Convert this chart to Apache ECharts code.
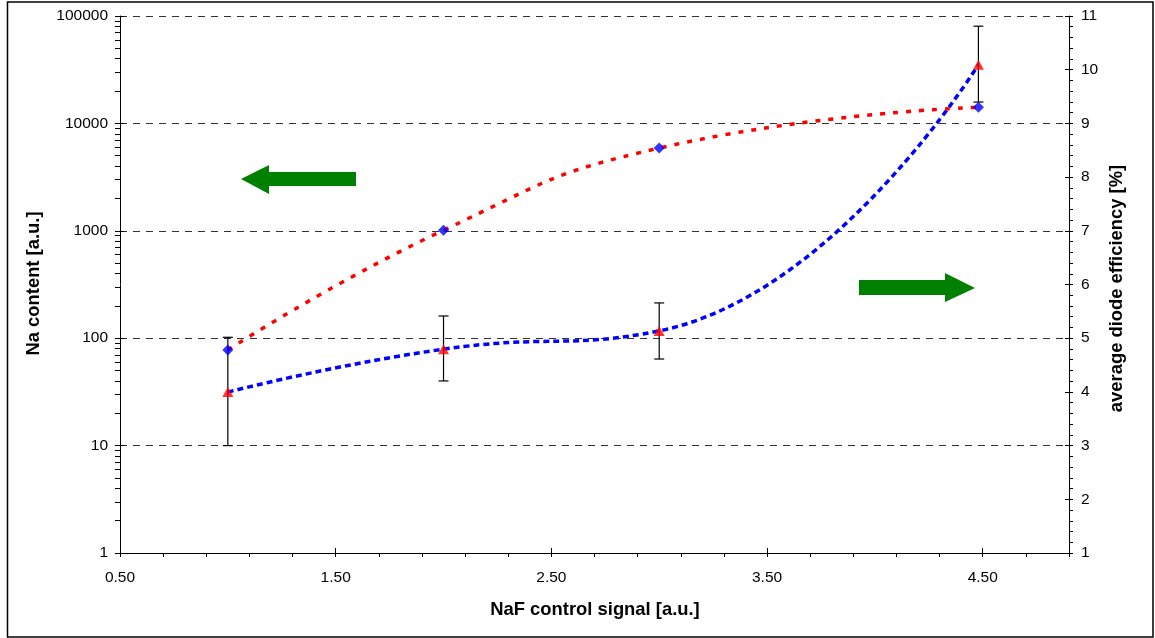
<!DOCTYPE html>
<html>
<head>
<meta charset="utf-8">
<script src="https://cdn.jsdelivr.net/npm/echarts@6/dist/echarts.min.js"></script>
<style>
  html, body { margin: 0; padding: 0; background: #fff; }
  #chart { width: 1155px; height: 638px; }
</style>
</head>
<body>
<div id="chart"></div>
<script>
// NaF control signal [a.u.] of each sample
const signal = [1.0, 2.0, 3.0, 4.48];
// Na content [a.u.] with its lower / upper error limits
const naContent = [31.5, 79, 117, 35200];
const naLow = [10, 40, 64, 15800];
const naHigh = [102, 161, 213, 80400];
// average diode efficiency [%]
const efficiency = [4.78, 7.01, 8.54, 9.30];

// tick positions
const xMajorTicks = [0.5, 1.5, 2.5, 3.5, 4.5];
const xMinorTicks = [0.7, 0.9, 1.1, 1.3, 1.7, 1.9, 2.1, 2.3, 2.7, 2.9, 3.1, 3.3, 3.7, 3.9, 4.1, 4.3, 4.7, 4.9];
const naDecades = [1, 10, 100, 1000, 10000, 100000];
const logSteps = [2, 3, 4, 5, 6, 7, 8, 9];
const naMinorTicks = naDecades.slice(0, -1).flatMap(d => logSteps.map(m => m * d));

const FONT = "'Liberation Sans', Arial, Helvetica, sans-serif";
const BLACK = { color: '#000', width: 1 };
const pairs = (xs, ys) => xs.map((x, i) => [x, ys[i]]);

const chart = echarts.init(document.getElementById('chart'), null, { renderer: 'canvas' });

const tickLabel = { color: '#000', fontSize: 15.5, fontFamily: FONT };
const bare = { axisLine: { show: false }, axisLabel: { show: false }, splitLine: { show: false } };

const option = {
  animation: false,
  backgroundColor: '#fff',
  grid: { left: 120, top: 16, width: 949, height: 537 },
  xAxis: [
    {
      type: 'value', position: 'bottom', min: 0.5, max: 4.9,
      axisLine: { show: true, lineStyle: BLACK },
      axisTick: { show: true, length: 4, customValues: xMajorTicks.concat(xMinorTicks), lineStyle: BLACK },
      axisLabel: Object.assign({ customValues: xMajorTicks, formatter: v => v.toFixed(2), margin: 17 }, tickLabel),
      splitLine: { show: false }
    },
    Object.assign({
      type: 'value', position: 'bottom', min: 0.5, max: 4.9,
      axisTick: { show: true, inside: true, length: 5, customValues: xMajorTicks, lineStyle: BLACK }
    }, bare)
  ],
  yAxis: [
    {
      type: 'log', logBase: 10, position: 'left', min: 1, max: 100000,
      axisLine: { show: true, lineStyle: BLACK },
      axisTick: { show: true, length: 5, lineStyle: BLACK },
      axisLabel: Object.assign({ margin: 12, formatter: v => String(v) }, tickLabel),
      splitLine: { show: true, lineStyle: { color: '#333', width: 1, type: [7, 6] } }
    },
    Object.assign({
      type: 'log', logBase: 10, position: 'left', min: 1, max: 100000,
      axisTick: { show: true, length: 5, customValues: naMinorTicks, lineStyle: BLACK }
    }, bare),
    Object.assign({
      type: 'log', logBase: 10, position: 'left', min: 1, max: 100000,
      axisTick: { show: true, inside: true, length: 4, lineStyle: BLACK }
    }, bare),
    {
      type: 'value', position: 'right', min: 1, max: 11, interval: 1,
      axisLine: { show: true, lineStyle: BLACK },
      axisTick: { show: true, length: 4, lineStyle: BLACK },
      minorTick: { show: true, splitNumber: 5, length: 4, lineStyle: BLACK },
      axisLabel: Object.assign({ margin: 12 }, tickLabel),
      splitLine: { show: false }
    },
    Object.assign({
      type: 'value', position: 'right', min: 1, max: 11, interval: 1,
      axisTick: { show: true, inside: true, length: 4, lineStyle: BLACK }
    }, bare)
  ],
  series: [
    {
      name: 'Na content trend', type: 'line', xAxisIndex: 0, yAxisIndex: 0, z: 2,
      data: pairs(signal, naContent), smooth: 0.5, showSymbol: false, symbol: 'none',
      lineStyle: { color: '#0000ff', width: 3.5, type: [6, 4] }
    },
    {
      name: 'efficiency trend', type: 'line', xAxisIndex: 0, yAxisIndex: 3, z: 2,
      data: pairs(signal, efficiency), smooth: 0.5, showSymbol: false, symbol: 'none',
      lineStyle: { color: '#ff0000', width: 3.5, type: [5, 8] }
    },
    {
      name: 'Na error', type: 'custom', xAxisIndex: 0, yAxisIndex: 0, z: 3,
      data: signal.map((x, i) => [x, naLow[i], naHigh[i]]),
      encode: { x: 0, y: [1, 2] },
      renderItem: function (params, api) {
        const x = api.value(0);
        const lo = api.coord([x, api.value(1)]);
        const hi = api.coord([x, api.value(2)]);
        const hw = 5;
        const style = { stroke: '#000', lineWidth: 1.2 };
        return {
          type: 'group',
          children: [
            { type: 'line', shape: { x1: lo[0], y1: lo[1], x2: hi[0], y2: hi[1] }, style: style },
            { type: 'line', shape: { x1: lo[0] - hw, y1: lo[1], x2: lo[0] + hw, y2: lo[1] }, style: style },
            { type: 'line', shape: { x1: hi[0] - hw, y1: hi[1], x2: hi[0] + hw, y2: hi[1] }, style: style }
          ]
        };
      }
    },
    {
      name: 'Na content', type: 'scatter', xAxisIndex: 0, yAxisIndex: 0, z: 4,
      data: pairs(signal, naContent), symbol: 'triangle', symbolSize: [11, 10],
      itemStyle: { color: '#ff0000' }
    },
    {
      name: 'average diode efficiency', type: 'scatter', xAxisIndex: 0, yAxisIndex: 3, z: 4,
      data: pairs(signal, efficiency), symbol: 'diamond', symbolSize: 11,
      itemStyle: { color: '#0000ff' }
    }
  ],
  graphic: [
    // outer frame
    { type: 'rect', shape: { x: 7.5, y: 2, width: 1145.5, height: 635 }, style: { fill: 'none', stroke: '#000', lineWidth: 1.5 }, z: 100 },
    // axis titles
    { type: 'text', x: 595, y: 610, style: { text: 'NaF control signal [a.u.]', font: 'bold 18.4px ' + FONT, fill: '#000', textAlign: 'center', textVerticalAlign: 'middle' } },
    { type: 'text', x: 34, y: 283.5, rotation: Math.PI / 2, style: { text: 'Na content [a.u.]', font: 'bold 18.4px ' + FONT, fill: '#000', textAlign: 'center', textVerticalAlign: 'middle' } },
    { type: 'text', x: 1117, y: 288.5, rotation: Math.PI / 2, style: { text: 'average diode efficiency [%]', font: 'bold 18.4px ' + FONT, fill: '#000', textAlign: 'center', textVerticalAlign: 'middle' } },
    // arrows pointing to the axis each curve belongs to
    { type: 'polygon', shape: { points: [[241, 179], [269, 165], [269, 172], [356, 172], [356, 186], [269, 186], [269, 194]] }, style: { fill: '#008000' } },
    { type: 'polygon', shape: { points: [[859, 280], [945, 280], [945, 273], [975, 288], [945, 302], [945, 295], [859, 295]] }, style: { fill: '#008000' } }
  ]
};

chart.setOption(option);
</script>
</body>
</html>
